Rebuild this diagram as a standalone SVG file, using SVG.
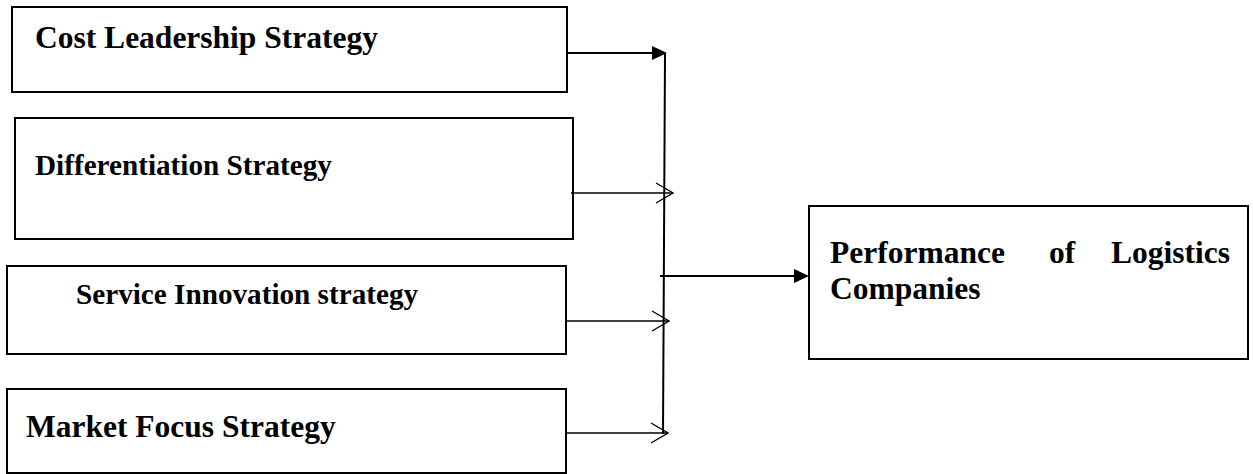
<svg xmlns="http://www.w3.org/2000/svg" width="1253" height="474" viewBox="0 0 1253 474">
  <style>
    .box { fill: #ffffff; stroke: #000000; stroke-width: 2; }
    .label { font-family: "Liberation Serif", "Times New Roman", serif; font-weight: bold; fill: #000000; }
    .big { font-size: 31.5px; }
    .mid { font-size: 29.2px; }
    .thick { stroke: #000000; stroke-width: 2; fill: none; }
    .thin { stroke: #000000; stroke-width: 1.3; fill: none; }
  </style>
  <defs>
    <marker id="solid-head" markerUnits="userSpaceOnUse" viewBox="0 0 15 14" refX="13" refY="7" markerWidth="15" markerHeight="14" orient="auto">
      <path d="M0,0 L15,7 L0,14 Z" fill="#000000"/>
    </marker>
    <marker id="open-head" markerUnits="userSpaceOnUse" viewBox="-1 -1 19 22" refX="17" refY="10" markerWidth="19" markerHeight="22" orient="auto">
      <path d="M0,0 L17,10 L0,20" fill="none" stroke="#000000" stroke-width="1.3"/>
    </marker>
  </defs>

  <g id="cost-leadership">
    <rect class="box" x="12" y="7" width="555" height="85"/>
    <text class="label big" x="35" y="48">Cost Leadership Strategy</text>
  </g>

  <g id="differentiation">
    <rect class="box" x="15" y="118" width="558" height="121"/>
    <text class="label mid" x="35" y="175">Differentiation Strategy</text>
  </g>

  <g id="service-innovation">
    <rect class="box" x="7" y="266" width="559" height="88"/>
    <text class="label mid" x="76" y="304">Service Innovation strategy</text>
  </g>

  <g id="market-focus">
    <rect class="box" x="7" y="389" width="559" height="84"/>
    <text class="label big" x="26" y="437">Market Focus Strategy</text>
  </g>

  <g id="performance">
    <rect class="box" x="809" y="206" width="439" height="153"/>
    <text class="label big" y="263"><tspan x="830">Performance</tspan><tspan x="1049">of</tspan><tspan x="1230" text-anchor="end">Logistics</tspan></text>
    <text class="label big" x="830" y="299">Companies</text>
  </g>

  <g id="connectors">
    <!-- shared vertical collector -->
    <line class="thick" x1="665" y1="54" x2="663" y2="434"/>
    <!-- inputs into the collector -->
    <line class="thick" x1="567" y1="53" x2="665" y2="53" marker-end="url(#solid-head)"/>
    <line class="thin" x1="571" y1="193" x2="673" y2="193" marker-end="url(#open-head)"/>
    <line class="thin" x1="566" y1="321" x2="669" y2="321" marker-end="url(#open-head)"/>
    <line class="thin" x1="566" y1="433" x2="668" y2="433" marker-end="url(#open-head)"/>
    <!-- collector into the outcome box -->
    <line class="thick" x1="660" y1="276" x2="807" y2="276" marker-end="url(#solid-head)"/>
  </g>
</svg>
